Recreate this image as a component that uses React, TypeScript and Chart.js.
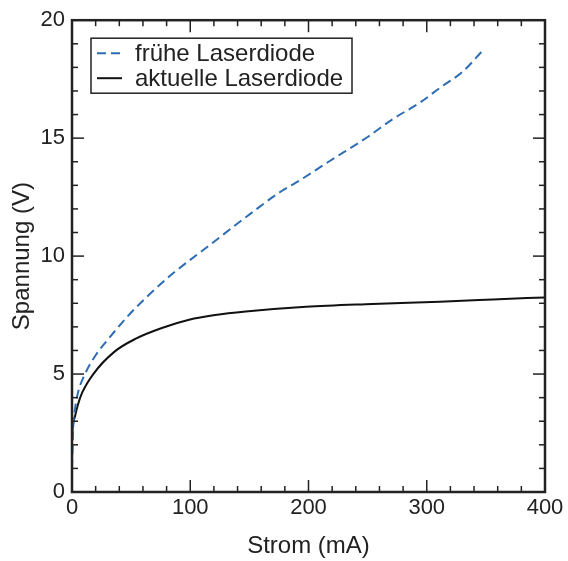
import React, { useEffect, useRef } from "react";
import { Chart, registerables } from "chart.js";

Chart.register(...registerables);

// Data: frühe Laserdiode (dashed blue)
const earlyCurrent = [0, 1.1, 2.5, 5, 11, 20, 31, 48, 66, 85, 116, 147, 177, 189, 217, 250, 271, 294, 313, 330, 348];
const earlyVoltage = [1.0, 2.8, 3.5, 4.2, 5.0, 5.8, 6.5, 7.5, 8.4, 9.25, 10.45, 11.65, 12.75, 13.1, 14.0, 15.05, 15.8, 16.5, 17.2, 17.8, 18.75];

// Data: aktuelle Laserdiode (solid black)
const modernCurrent = [0, 0.5, 2.5, 5, 8.5, 18, 36, 54, 76, 99, 121, 147, 198, 254, 311, 356, 400];
const modernVoltage = [2.2, 2.7, 3.2, 3.7, 4.2, 5.0, 5.95, 6.5, 6.95, 7.3, 7.5, 7.65, 7.85, 7.97, 8.07, 8.16, 8.25];

const seriesLabels = ["frühe Laserdiode", "aktuelle Laserdiode"];
const xTitle = "Strom (mA)";
const yTitle = "Spannung (V)";
const xTicks = [0, 100, 200, 300, 400];
const yTicks = [0, 5, 10, 15, 20];
const xMinorStep = 20;
const yMinorStep = 1;

const FONT = "'Liberation Sans', Arial, Helvetica, sans-serif";
const TEXT = "#222";
const BLUE = "#2e6db4";
const BLACK = "#111";

const framePlugin = {
  id: "framePlugin",
  afterDatasetsDraw(chart: any) {
    const { ctx, chartArea: a, scales } = chart;
    const xs = scales.x;
    const ys = scales.y;
    const line = (x1: number, y1: number, x2: number, y2: number) => {
      ctx.beginPath();
      ctx.moveTo(x1, y1);
      ctx.lineTo(x2, y2);
      ctx.stroke();
    };
    ctx.save();
    ctx.strokeStyle = TEXT;
    ctx.lineWidth = 1.5;
    ctx.setLineDash([]);
    for (let v = xs.min; v <= xs.max + 1e-9; v += xMinorStep) {
      const major = xTicks.some((t) => Math.abs(t - v) < 1e-6);
      const len = major ? 12 : 6;
      const px = xs.getPixelForValue(v);
      line(px, a.bottom, px, a.bottom - len);
      line(px, a.top, px, a.top + len);
    }
    for (let v = ys.min; v <= ys.max + 1e-9; v += yMinorStep) {
      const major = yTicks.some((t) => Math.abs(t - v) < 1e-6);
      const len = major ? 12 : 6;
      const py = ys.getPixelForValue(v);
      line(a.left, py, a.left + len, py);
      line(a.right, py, a.right - len, py);
    }
    ctx.lineWidth = 2.5;
    ctx.strokeRect(a.left, a.top, a.right - a.left, a.bottom - a.top);

    // legend
    const bx = a.left + 19;
    const by = a.top + 18;
    const bw = 261;
    const bh = 55;
    ctx.fillStyle = "#fff";
    ctx.fillRect(bx, by, bw, bh);
    ctx.lineWidth = 1.5;
    ctx.strokeStyle = TEXT;
    ctx.strokeRect(bx, by, bw, bh);
    const rows = [by + 15, by + 40];
    chart.data.datasets.forEach((ds: any, i: number) => {
      const ry = rows[i];
      ctx.strokeStyle = ds.borderColor;
      ctx.lineWidth = ds.borderWidth;
      ctx.setLineDash(ds.borderDash || []);
      line(bx + 6, ry, bx + 31, ry);
      ctx.setLineDash([]);
      ctx.fillStyle = TEXT;
      ctx.font = `24px ${FONT}`;
      ctx.textBaseline = "middle";
      ctx.textAlign = "left";
      ctx.fillText(ds.label, bx + 44, ry + 1);
    });
    ctx.restore();
  },
};

export default function App() {
  const ref = useRef<HTMLCanvasElement | null>(null);
  useEffect(() => {
    if (!ref.current) return;
    const chart = new Chart(ref.current, {
      type: "line",
      data: {
        datasets: [
          {
            label: seriesLabels[0],
            data: earlyCurrent.map((x, i) => ({ x, y: earlyVoltage[i] })),
            borderColor: BLUE,
            borderWidth: 2,
            borderDash: [9, 5],
            pointRadius: 0,
            cubicInterpolationMode: "monotone",
            fill: false,
          },
          {
            label: seriesLabels[1],
            data: modernCurrent.map((x, i) => ({ x, y: modernVoltage[i] })),
            borderColor: BLACK,
            borderWidth: 2,
            pointRadius: 0,
            cubicInterpolationMode: "monotone",
            fill: false,
          },
        ],
      },
      options: {
        animation: false,
        responsive: true,
        maintainAspectRatio: false,
        layout: { padding: { top: 20, right: 23, left: 0, bottom: 0 } },
        plugins: { legend: { display: false }, tooltip: { enabled: false } },
        scales: {
          x: {
            type: "linear",
            min: 0,
            max: 400,
            afterBuildTicks: (s: any) => {
              s.ticks = xTicks.map((v) => ({ value: v }));
            },
            afterFit: (s: any) => {
              s.height = 69;
            },
            grid: { display: false, drawTicks: false },
            border: { display: false },
            ticks: {
              padding: 3,
              color: TEXT,
              font: { family: FONT, size: 22 },
              maxRotation: 0,
            },
            title: {
              display: true,
              text: xTitle,
              color: TEXT,
              font: { family: FONT, size: 24 },
              padding: 0,
            },
          },
          y: {
            type: "linear",
            min: 0,
            max: 20,
            afterBuildTicks: (s: any) => {
              s.ticks = yTicks.map((v) => ({ value: v }));
            },
            afterFit: (s: any) => {
              s.width = 72;
            },
            grid: { display: false, drawTicks: false },
            border: { display: false },
            ticks: {
              padding: 7,
              color: TEXT,
              font: { family: FONT, size: 22 },
            },
            title: {
              display: true,
              text: yTitle,
              color: TEXT,
              font: { family: FONT, size: 24 },
              padding: { top: 8, bottom: 0 },
            },
          },
        },
      },
      plugins: [framePlugin],
    } as any);
    return () => chart.destroy();
  }, []);
  return (
    <div style={{ position: "absolute", left: 0, top: 0, width: 568, height: 561 }}>
      <canvas ref={ref} />
    </div>
  );
}
